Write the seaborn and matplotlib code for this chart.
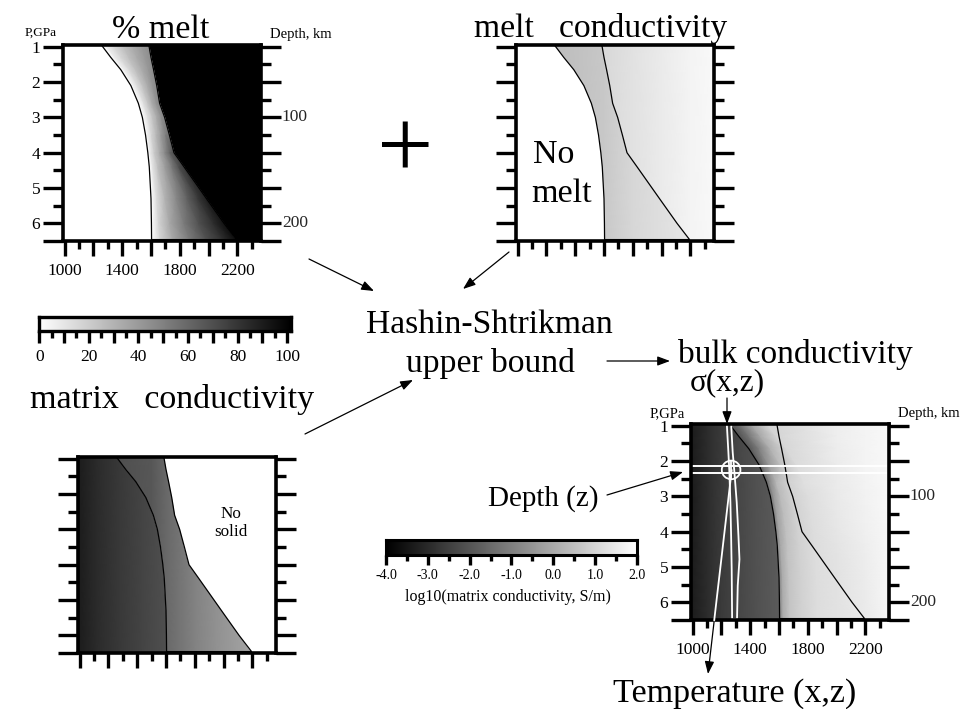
import numpy as np
import matplotlib
matplotlib.use("Agg")
import matplotlib.pyplot as plt
import seaborn as sns
from matplotlib.patches import Polygon, Ellipse, FancyArrowPatch
from matplotlib.ticker import FixedLocator, FixedFormatter, NullFormatter

# ---------------------------------------------------------------- data
# phase boundaries: pressure (GPa) and temperature
P_nodes = [0.95, 1.3, 1.65, 2.1, 2.6, 3.0, 3.5, 4.0, 4.4, 5.3, 6.0, 6.5]
T_solidus = [1255, 1320, 1390, 1460, 1512, 1540, 1562, 1578, 1588, 1600, 1603, 1604]
T_liquidus = [1585, 1600, 1618, 1640, 1660, 1695, 1728, 1760, 1830, 1986, 2108, 2195]

# melt fraction (%) at fractional positions across the melting interval
melt_interval_pos = [0.0, 0.1, 0.25, 0.45, 0.65, 0.85, 1.0]
melt_pct = [
    [0, 8, 16, 25, 33, 40, 45],
    [0, 8, 16, 25, 33, 40, 45],
    [0, 7, 15, 25, 33, 41, 46],
    [0, 6, 14, 24, 33, 42, 47],
    [0, 5, 13, 23, 33, 42, 48],
    [0, 5, 13, 23, 33, 43, 49],
    [0, 7, 17, 28, 39, 50, 57],
    [0, 9, 21, 33, 46, 61, 70],
    [0, 11, 25, 38, 52, 69, 78],
    [0, 14, 30, 46, 62, 78, 88],
    [0, 17, 34, 52, 68, 82, 93],
    [0, 17, 34, 52, 68, 82, 95],
]
melt_pct_ticks = [0, 20, 40, 60, 80, 100]

# melt conductivity, log10(S/m)
melt_T_partial = [1250, 1600, 1800, 2100, 2365]
melt_sigma_partial = [0.42, 0.71, 1.05, 1.33, 1.5]
melt_T_full = [1575, 1800, 2000, 2200, 2365]
melt_sigma_full = [1.05, 1.32, 1.53, 1.72, 1.84]

# matrix conductivity, log10(S/m)
matrix_T_subsolidus = [988, 1110, 1270, 1435, 1610]
matrix_sigma_subsolidus = [-3.35, -3.0, -2.68, -2.4, -2.12]
matrix_T_partial = [1250, 1500, 1600, 1800, 1950, 2150, 2365]
matrix_sigma_partial = [-2.15, -1.95, -1.55, -0.95, -0.6, -0.22, 0.1]

# bulk conductivity, log10(S/m)
bulk_T_subsolidus = [988, 1100, 1200, 1315, 1430, 1550, 1610]
bulk_sigma_subsolidus = [-3.35, -2.95, -2.62, -2.35, -2.12, -1.93, -1.85]
bulk_offsets_above_solidus = [0, 25, 70, 150, 260]
bulk_T_fixed = [2000, 2200, 2365]
bulk_sigma_melt = [
    [-1.95, -1.85, -1.35, -0.15, 0.95, 1.58, 1.72, 1.85],
    [-1.95, -1.80, -1.25, -0.05, 1.00, 1.58, 1.72, 1.85],
    [-1.90, -1.70, -1.05, 0.15, 1.05, 1.57, 1.72, 1.85],
    [-1.80, -1.30, -0.40, 0.50, 1.15, 1.55, 1.72, 1.85],
    [-1.60, -0.75, 0.35, 0.90, 1.25, 1.52, 1.70, 1.84],
    [-1.30, -0.40, 0.40, 0.90, 1.20, 1.50, 1.68, 1.83],
    [-1.10, -0.20, 0.45, 0.90, 1.20, 1.45, 1.66, 1.82],
    [-0.95, -0.10, 0.50, 0.90, 1.20, 1.40, 1.63, 1.80],
    [-0.90, 0.00, 0.55, 0.90, 1.20, 1.35, 1.60, 1.80],
    [-0.90, 0.05, 0.60, 0.92, 1.20, 1.30, 1.55, 1.78],
    [-0.90, 0.05, 0.60, 0.92, 1.20, 1.30, 1.52, 1.77],
    [-0.90, 0.05, 0.60, 0.92, 1.20, 1.30, 1.50, 1.77],
]
sigma_ticks = [-4.0, -3.0, -2.0, -1.0, 0.0, 1.0, 2.0]

# sampled temperature column and depth slice
column_P_left = [0.95, 1.75, 2.32, 3.17, 4.12, 5.06, 6.48]
column_T_left = [1237, 1248, 1255, 1262, 1267, 1271, 1274]
column_P_right = [0.95, 1.75, 2.32, 3.17, 4.12, 4.78, 5.53, 6.48]
column_T_right = [1267, 1278, 1290, 1306, 1318, 1325, 1313, 1308]
slice_P = [2.15, 2.34]
probe_T, probe_P = 1267, 2.25

# axis scales
T_major = [1000, 1200, 1400, 1600, 1800, 2000, 2200]
T_minor = [1100, 1300, 1500, 1700, 1900, 2100, 2300]
T_labels = ["1000", "", "1400", "", "1800", "", "2200"]
P_major = [1, 2, 3, 4, 5, 6, 6.5]
P_minor = [1.5, 2.5, 3.5, 4.5, 5.5]
P_labels = ["1", "2", "3", "4", "5", "6", ""]
depth_ticks = {3: "100", 6: "200"}
TMIN, TMAX = 988, 2365
PTOP, PBOT = 0.95, 6.5

# ---------------------------------------------------------------- style
sns.set_theme(style="white")
plt.rcParams["font.family"] = ["Liberation Serif", "DejaVu Serif"]
plt.rcParams["axes.unicode_minus"] = False

melt_cmap = sns.blend_palette(["#ffffff", "#000000"], as_cmap=True)
sigma_cmap = sns.blend_palette(["#000000", "#ffffff"], as_cmap=True)
SMIN, SMAX = -4.0, 2.0

W, H = 973, 709
fig = plt.figure(figsize=(W / 100, H / 100), dpi=100)
fig.patch.set_facecolor("white")


def px_axes(left, top, width, height):
    return fig.add_axes([left / W, 1 - (top + height) / H, width / W, height / H])


# lowest layer: arrow that runs underneath the bulk panel
ax_under = px_axes(0, 0, W, H)
ax_under.set_xlim(0, W)
ax_under.set_ylim(H, 0)
ax_under.axis("off")

P = np.array(P_nodes)
Tsol = np.array(T_solidus)
Tliq = np.array(T_liquidus)


def region(ax, pts):
    return Polygon(pts, closed=True, transform=ax.transData)


def left_of_solidus(ax):
    pts = [(TMIN, P[0])] + list(zip(Tsol, P)) + [(TMIN, P[-1])]
    return region(ax, pts)


def melting_interval(ax):
    pts = list(zip(Tsol, P)) + list(zip(Tliq[::-1], P[::-1]))
    return region(ax, pts)


def right_of_liquidus(ax):
    pts = list(zip(Tliq, P)) + [(TMAX, P[-1]), (TMAX, P[0])]
    return region(ax, pts)


def t_gradient(ax, T_nodes, values, cmap, vmin, vmax, clip):
    Tn = np.array(T_nodes, dtype=float)
    X = np.vstack([Tn, Tn])
    Y = np.vstack([np.full_like(Tn, 0.8), np.full_like(Tn, 6.7)])
    C = np.vstack([values, values])
    mesh = ax.pcolormesh(X, Y, C, shading="gouraud", cmap=cmap,
                         vmin=vmin, vmax=vmax, zorder=1)
    mesh.set_clip_path(clip)
    return mesh


def boundaries(ax):
    xs = list(T_solidus) + list(T_liquidus[::-1])
    ys = list(P_nodes[:-1]) + [6.46, 6.46] + list(P_nodes[::-1][1:])
    sns.lineplot(x=xs, y=ys, sort=False, estimator=None, color="black",
                 linewidth=0.9, ax=ax, zorder=4)


def frame(ax, ylabels=False, xlabels=False, depth=False):
    ax.set_xlim(TMIN, TMAX)
    ax.set_ylim(PBOT, PTOP)
    for s in ax.spines.values():
        s.set_visible(True)
        s.set_linewidth(2.6)
        s.set_color("black")
        s.set_zorder(6)
    ax.xaxis.set_major_locator(FixedLocator(T_major))
    ax.xaxis.set_minor_locator(FixedLocator(T_minor))
    ax.yaxis.set_major_locator(FixedLocator(P_major))
    ax.yaxis.set_minor_locator(FixedLocator(P_minor))
    ax.xaxis.set_major_formatter(FixedFormatter(T_labels) if xlabels else NullFormatter())
    ax.yaxis.set_major_formatter(FixedFormatter(P_labels) if ylabels else NullFormatter())
    ax.xaxis.set_minor_formatter(NullFormatter())
    ax.yaxis.set_minor_formatter(NullFormatter())
    ax.tick_params(axis="x", which="major", direction="out", length=10.8, width=2.4,
                   bottom=True, top=False, labelsize=12.5, pad=5, colors="black")
    ax.tick_params(axis="x", which="minor", direction="out", length=5.8, width=2.4,
                   bottom=True, top=False, colors="black")
    ax.tick_params(axis="y", which="major", direction="out", length=14.4, width=2.4,
                   left=True, right=True, labelsize=12.5, pad=2, colors="black")
    ax.tick_params(axis="y", which="minor", direction="out", length=7.2, width=2.4,
                   left=True, right=True, colors="black")
    ax.set_xlabel("")
    ax.set_ylabel("")
    if depth:
        for p, lab in depth_ticks.items():
            ax.annotate(lab, xy=(1, p), xycoords=("axes fraction", "data"),
                        xytext=(15, 0), textcoords="offset points",
                        ha="left", va="center", fontsize=12.5)


# ---------------------------------------------------------------- % melt
ax1 = px_axes(63, 45, 198, 196)
ax1.fill_betweenx(P, TMIN, Tsol, color="white", lw=0, zorder=1)
ax1.fill_betweenx(P, Tliq, TMAX, color="black", lw=0, zorder=1)
pos = np.array(melt_interval_pos)
X1 = Tsol[:, None] + pos[None, :] * (Tliq - Tsol)[:, None]
Y1 = np.repeat(P[:, None], len(pos), axis=1)
ax1.pcolormesh(X1, Y1, np.array(melt_pct, dtype=float), shading="gouraud",
               cmap=melt_cmap, vmin=0, vmax=100, zorder=2)
boundaries(ax1)
frame(ax1, ylabels=True, xlabels=True, depth=True)

# ---------------------------------------------------------------- melt conductivity
ax2 = px_axes(516, 45, 198, 196)
ax2.fill_betweenx(P, TMIN, Tsol, color="white", lw=0, zorder=1)
t_gradient(ax2, melt_T_partial, melt_sigma_partial, sigma_cmap, SMIN, SMAX, melting_interval(ax2))
t_gradient(ax2, melt_T_full, melt_sigma_full, sigma_cmap, SMIN, SMAX, right_of_liquidus(ax2))
boundaries(ax2)
frame(ax2)

# ---------------------------------------------------------------- matrix conductivity
ax3 = px_axes(78, 457, 198, 196)
t_gradient(ax3, matrix_T_subsolidus, matrix_sigma_subsolidus, sigma_cmap, SMIN, SMAX, left_of_solidus(ax3))
t_gradient(ax3, matrix_T_partial, matrix_sigma_partial, sigma_cmap, SMIN, SMAX, melting_interval(ax3))
ax3.fill_betweenx(P, Tliq, TMAX, color="white", lw=0, zorder=1)
boundaries(ax3)
frame(ax3)

# ---------------------------------------------------------------- bulk conductivity
ax4 = px_axes(691, 424, 198, 196)
t_gradient(ax4, bulk_T_subsolidus, bulk_sigma_subsolidus, sigma_cmap, SMIN, SMAX, left_of_solidus(ax4))
offs = np.array(bulk_offsets_above_solidus, dtype=float)
X4 = np.hstack([Tsol[:, None] + offs[None, :],
                np.repeat(np.array(bulk_T_fixed, dtype=float)[None, :], len(P), axis=0)])
Y4 = np.repeat(P[:, None], X4.shape[1], axis=1)
ax4.pcolormesh(X4, Y4, np.array(bulk_sigma_melt), shading="gouraud",
               cmap=sigma_cmap, vmin=SMIN, vmax=SMAX, zorder=2)
boundaries(ax4)
# sampled column of temperatures
col_pts = list(zip(column_T_left, column_P_left)) + list(zip(column_T_right[::-1], column_P_right[::-1]))
ax4.add_patch(Polygon(col_pts, closed=True, fill=False, edgecolor="white", lw=1.3, zorder=5))
# depth slice
for p in slice_P:
    ax4.axhline(p, color="white", lw=1.4, zorder=5)
ax4.add_patch(Ellipse((probe_T, probe_P), width=2 * 9.3 / 0.1436, height=2 * 9.3 / 35.3,
                      fill=False, edgecolor="white", lw=1.3, zorder=5))
ax4.plot([probe_T, probe_T], [probe_P - 9.3 / 35.3, probe_P + 9.3 / 35.3],
         color="white", lw=1.3, zorder=5)
frame(ax4, ylabels=True, xlabels=True, depth=True)

# ---------------------------------------------------------------- colour scales
cb1 = px_axes(39.3, 316.5, 251.7, 14)
grad = np.linspace(0, 100, 256)[None, :]
cb1.imshow(grad, extent=[0, 101.5, 0, 1], aspect="auto", cmap=melt_cmap, vmin=0, vmax=100)
cb1.set_xlim(0, 101.5)
cb1.set_ylim(0, 1)
cb1.set_yticks([])
cb1.xaxis.set_major_locator(FixedLocator(list(range(0, 101, 10))))
cb1.xaxis.set_minor_locator(FixedLocator(list(range(5, 100, 10))))
cb1.xaxis.set_major_formatter(FixedFormatter([str(v) if v in melt_pct_ticks else "" for v in range(0, 101, 10)]))
cb1.tick_params(axis="x", which="major", direction="out", length=8.5, width=2.4,
                bottom=True, labelsize=12.5, pad=5, colors="black")
cb1.tick_params(axis="x", which="minor", direction="out", length=4.8, width=2.4, bottom=True, colors="black")
for s in cb1.spines.values():
    s.set_visible(True)
    s.set_linewidth(2.4)
    s.set_color("black")

cb2 = px_axes(386, 539.5, 251, 15)
grad2 = np.linspace(SMIN, SMAX, 256)[None, :]
cb2.imshow(grad2, extent=[SMIN, SMAX, 0, 1], aspect="auto", cmap=sigma_cmap, vmin=SMIN, vmax=SMAX)
cb2.set_xlim(SMIN, SMAX)
cb2.set_ylim(0, 1)
cb2.set_yticks([])
cb2.xaxis.set_major_locator(FixedLocator(sigma_ticks))
cb2.xaxis.set_minor_locator(FixedLocator([-3.5, -2.5, -1.5, -0.5, 0.5, 1.5]))
cb2.xaxis.set_major_formatter(FixedFormatter([f"{v:.1f}" for v in sigma_ticks]))
cb2.tick_params(axis="x", which="major", direction="out", length=7.2, width=2.4,
                bottom=True, labelsize=10, pad=3, colors="black")
cb2.tick_params(axis="x", which="minor", direction="out", length=4.5, width=2.4, bottom=True, colors="black")
for s in cb2.spines.values():
    s.set_visible(True)
    s.set_linewidth(2.2)
    s.set_color("black")

# ---------------------------------------------------------------- annotations layer
ax_top = px_axes(0, 0, W, H)
ax_top.set_xlim(0, W)
ax_top.set_ylim(H, 0)
ax_top.axis("off")


def txt(x, y, s, size, ha="left", va="baseline", **kw):
    ax_top.text(x, y, s, fontsize=size, ha=ha, va=va, color="black", **kw)


def arrow(ax, x0, y0, x1, y1, color="black"):
    ax.add_patch(FancyArrowPatch((x0, y0), (x1, y1),
                                 arrowstyle="-|>,head_length=0.75,head_width=0.28",
                                 mutation_scale=10, lw=0.9, color=color,
                                 shrinkA=0, shrinkB=0))


BIG = 24.5
txt(161, 38, "% melt", BIG, ha="center")
txt(601, 37, "melt   conductivity", 24.2, ha="center")
txt(405, 178, "+", 72, ha="center")
txt(30, 408, "matrix   conductivity", BIG)
txt(489, 333, "Hashin-Shtrikman", 24.2, ha="center")
txt(491, 372, "upper bound", 24.2, ha="center")
txt(678, 363, "bulk conductivity", 24)
txt(690, 390, "σ(x,z)", 22.5)
txt(598, 506, "Depth (z)", 21, ha="right")
txt(613, 702, "Temperature (x,z)", BIG)
txt(508, 601, "log10(matrix conductivity, S/m)", 11.5, ha="center")
txt(533, 163, "No", BIG)
txt(531, 202, "melt", BIG)
txt(231, 518, "No", 12.3, ha="center")
txt(231, 536, "solid", 12.3, ha="center")
txt(25, 36, "P,GPa", 9.5)
txt(270, 38, "Depth, km", 10.5)
txt(650, 417, "P,GPa", 10.5)
txt(898, 417, "Depth, km", 10.5)

arrow(ax_top, 309, 259, 374, 291)
arrow(ax_top, 509, 252, 463, 289)
arrow(ax_top, 305, 434, 413, 380)
arrow(ax_top, 607, 361, 670, 361)
arrow(ax_top, 727, 398, 727, 424)
arrow(ax_top, 607, 495, 683, 472)
arrow(ax_under, 731.7, 470, 708, 674)
ax_top.plot([731.7, 714.2], [470, 620.5], color="white", lw=1.3)

fig.savefig("out.png", dpi=100, facecolor="white")
